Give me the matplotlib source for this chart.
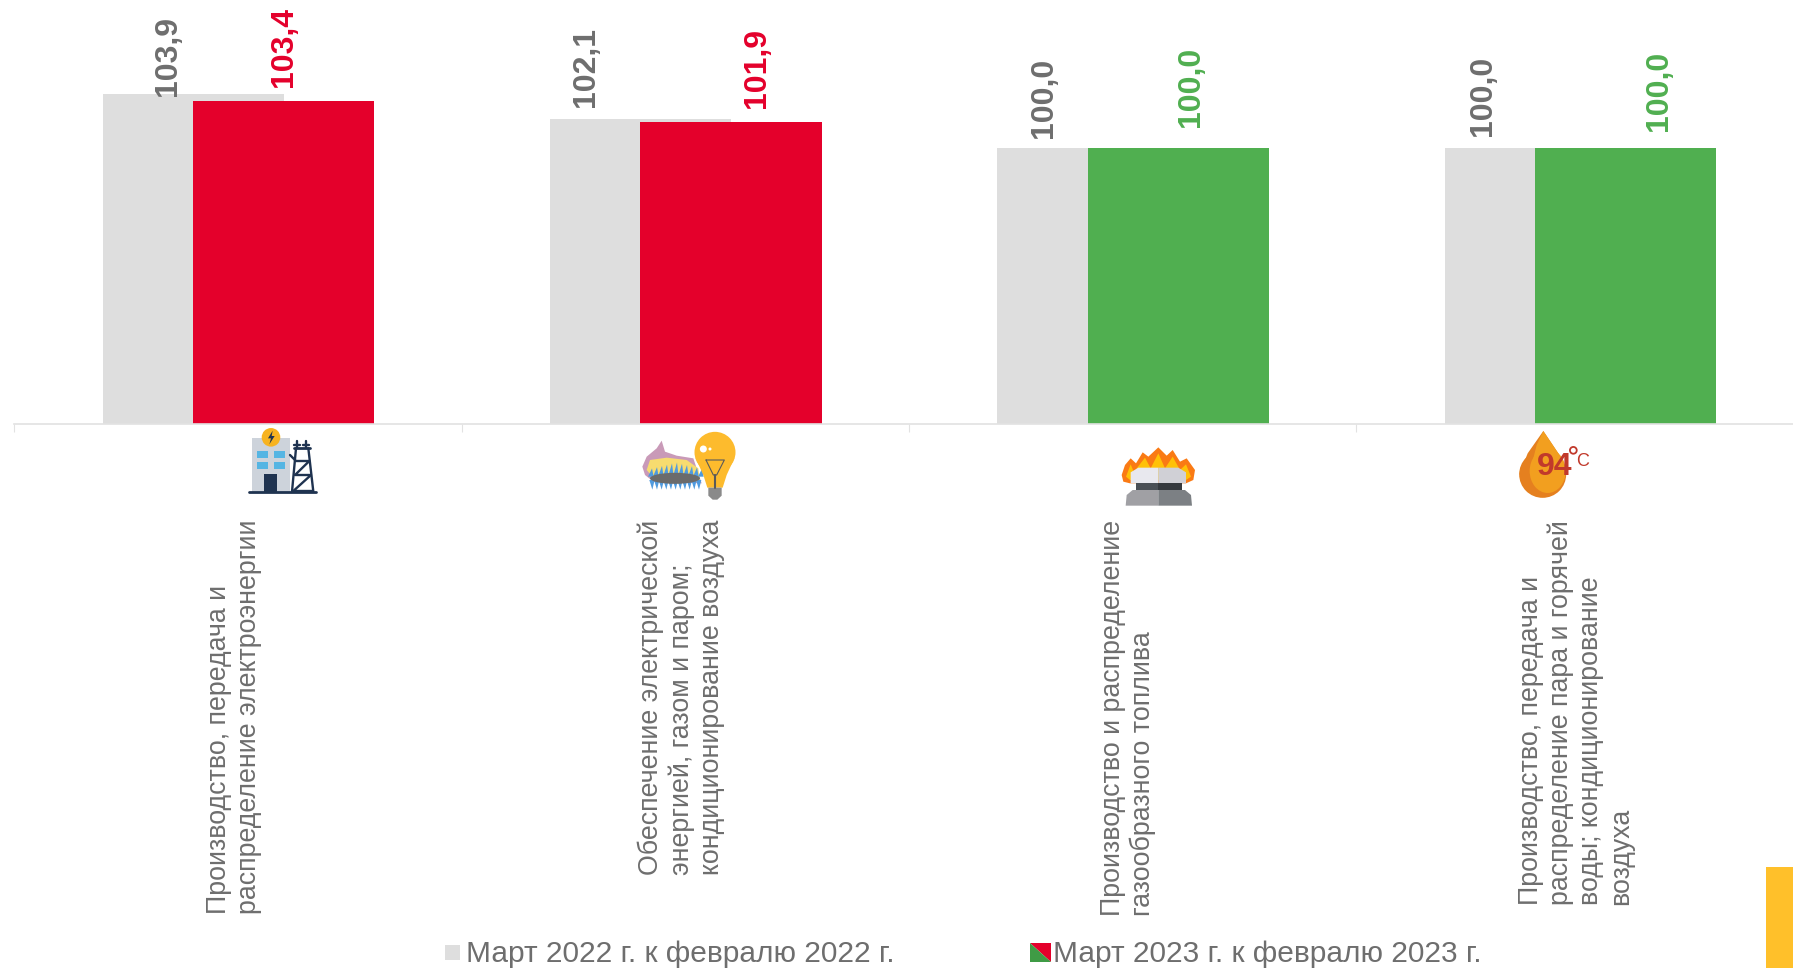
import matplotlib
matplotlib.use('Agg')
import matplotlib.pyplot as plt
import numpy as np
from matplotlib.patches import Polygon, Circle, Rectangle, Ellipse

plt.rcParams['font.family'] = ['Liberation Sans', 'DejaVu Sans']

categories = ['Производство, передача и\nраспределение электроэнергии',
              'Обеспечение электрической\nэнергией, газом и паром;\nкондиционирование воздуха',
              'Производство и распределение\nгазообразного топлива',
              'Производство, передача и\nраспределение пара и горячей\nводы; кондиционирование\nвоздуха']
march_2022 = [103.9, 102.1, 100.0, 100.0]
march_2023 = [103.4, 101.9, 100.0, 100.0]
legend_2022 = 'Март 2022 г. к февралю 2022 г.'
legend_2023 = 'Март 2023 г. к февралю 2023 г.'

GRAY = '#dedede'
RED = '#e4002b'
GREEN = '#50af50'
TEXT = '#6e6e6e'
colors_2023 = [RED, RED, GREEN, GREEN]

# label shifts from the bar top centre, in pixels
shift_2022 = [(-25, -2), (-55, 12), (-44, 10), (-52, 12)]
shift_2023 = [(0, 14), (26, 14), (13, 21), (33, 17)]
label_x = [234, 681, 1128, 1576]

W, H = 1793, 968
fig = plt.figure(figsize=(W / 100, H / 100), dpi=100)
ax = fig.add_axes([14.4 / W, (H - 424) / H, 1 - 14.4 / W, 424 / H])

x = np.arange(len(categories))
ax.bar(x - 0.1, march_2022, width=0.405, color=GRAY)
ax.bar(x + 0.102, march_2023, width=0.405, color=colors_2023)
ax.set_xlim(-0.5, 3.476)
ax.set_ylim(80, 80 + 424 / 13.8)
for s in ['top', 'left', 'right']:
    ax.spines[s].set_visible(False)
ax.spines['bottom'].set_color('#e2e2e2')
ax.spines['bottom'].set_linewidth(1.2)
ax.set_yticks([])
ax.set_xticks(np.arange(4) - 0.5)
ax.set_xticklabels([])
ax.tick_params(axis='x', length=6, width=0.8, color='#e2e2e2')

for i in range(4):
    ax.annotate(f'{march_2022[i]:.1f}'.replace('.', ','), (x[i] - 0.1, march_2022[i]),
                xytext=shift_2022[i], textcoords='offset pixels', rotation=90,
                ha='center', va='bottom', fontsize=23, fontweight='bold', color=TEXT,
                annotation_clip=False)
    ax.annotate(f'{march_2023[i]:.1f}'.replace('.', ','), (x[i] + 0.102, march_2023[i]),
                xytext=shift_2023[i], textcoords='offset pixels', rotation=90,
                ha='center', va='bottom', fontsize=23, fontweight='bold', color=colors_2023[i],
                annotation_clip=False)

# overlay in pixel coordinates for labels, legend and icons
ov = fig.add_axes([0, 0, 1, 1])
ov.set_xlim(0, W)
ov.set_ylim(H, 0)
ov.axis('off')
ov.patch.set_alpha(0)

for lx, cat in zip(label_x, categories):
    ov.text(lx, 520, cat, rotation=90, ha='center', va='top', multialignment='left',
            fontsize=19.3, color=TEXT, linespacing=1.2)

# legend
ov.add_patch(Rectangle((445, 945), 15, 15, color=GRAY, lw=0))
ov.text(466, 954, legend_2022, fontsize=21.5, color=TEXT, va='center', ha='left')
ov.add_patch(Polygon([(1030, 943), (1051, 943), (1051, 962)], color=RED, lw=0))
ov.add_patch(Polygon([(1030, 943), (1051, 962), (1030, 962)], color='#3f9b45', lw=0))
ov.text(1053, 954, legend_2023, fontsize=21.5, color=TEXT, va='center', ha='left')

# yellow corner block
ov.add_patch(Rectangle((1766, 867), 27, 101, color='#ffc02a', lw=0))


def z(ox, oy, pts):
    return [(ox + a / 3, oy + b / 3) for a, b in pts]


def poly(ox, oy, pts, col):
    ov.add_patch(Polygon(z(ox, oy, pts), closed=True, color=col, lw=0))


def line(ox, oy, pts, col, lw):
    p = np.array(z(ox, oy, pts))
    ov.plot(p[:, 0], p[:, 1], color=col, lw=lw, solid_capstyle='round')


# icon 1: building and pylon
o = (240, 425)
navy = '#1f3350'
poly(*o, [(37, 38), (150, 38), (150, 200), (37, 200)], '#cdd3db')
for wx in (52, 102):
    for wy in (78, 112):
        poly(*o, [(wx, wy), (wx + 33, wy), (wx + 33, wy + 20), (wx, wy + 20)], '#55b5e3')
poly(*o, [(72, 147), (112, 147), (112, 200), (72, 200)], navy)
ov.add_patch(Circle((240 + 93 / 3, 425 + 37 / 3), 9.3, color='#f7b320', lw=0))
poly(*o, [(98, 17), (84, 40), (93, 40), (88, 58), (104, 33), (95, 33)], navy)
line(*o, [(28, 202), (228, 202)], navy, 2)
line(*o, [(168, 70), (156, 200)], navy, 1.7)
line(*o, [(205, 70), (220, 200)], navy, 1.7)
line(*o, [(163, 70), (210, 70)], navy, 2)
line(*o, [(150, 90), (168, 108), (208, 108), (165, 150), (213, 150), (160, 198), (218, 198)], navy, 1.7)
line(*o, [(172, 70), (172, 48)], navy, 1.7)
line(*o, [(198, 70), (198, 48)], navy, 1.7)
line(*o, [(162, 60), (180, 60)], navy, 1.7)
line(*o, [(190, 60), (208, 60)], navy, 1.7)

# icon 2: burner flame and bulb
o = (630, 425)
poly(*o, [(95, 47), (105, 80), (140, 92), (190, 100), (215, 175), (70, 170), (45, 150), (37, 125), (50, 95), (80, 70)], '#c99ab8')
poly(*o, [(50, 135), (60, 105), (110, 98), (170, 105), (205, 130), (210, 170), (80, 170)], '#f7dc6f')
for bx in np.arange(62, 215, 15):
    poly(*o, [(bx - 8, 155), (bx + 4, 112 + abs(bx - 135) * 0.25), (bx + 9, 155)], '#4f9ade')
for bx in np.arange(66, 210, 14):
    poly(*o, [(bx - 8, 165), (bx + 8, 165), (bx + 1, 194)], '#4f9ade')
ov.add_patch(Ellipse((630 + 135 / 3, 425 + 160 / 3), 50, 11, color='#6b6b6b', lw=0))
ov.add_patch(Circle((630 + 255 / 3, 425 + 82 / 3), 20.5, color='#fdbb2d', lw=0))
poly(*o, [(197, 100), (313, 100), (290, 150), (278, 188), (232, 188), (220, 150)], '#fdbb2d')
poly(*o, [(235, 188), (275, 188), (275, 212), (262, 224), (248, 224), (235, 212)], '#8a8a8a')
ov.add_patch(Circle((630 + 220 / 3, 425 + 72 / 3), 3.5, color='white', lw=0))
ov.add_patch(Circle((630 + 240 / 3, 425 + 72 / 3), 1.5, color='white', lw=0))
line(*o, [(228, 105), (283, 105), (260, 150), (250, 150), (228, 105)], '#5a5a5a', 0.8)
line(*o, [(255, 150), (255, 188)], '#5a5a5a', 1.5)

# icon 3: gas ring
o = (1110, 435)
poly(*o, [(35, 120), (45, 90), (62, 70), (78, 85), (98, 52), (115, 65), (145, 37), (170, 62), (188, 45), (210, 80), (230, 70), (255, 105), (250, 135), (228, 145), (60, 145), (40, 140)], '#fa7a14')
poly(*o, [(48, 125), (62, 88), (75, 120), (80, 100), (105, 68), (122, 100), (145, 55), (165, 100), (188, 65), (210, 105), (228, 88), (243, 125), (228, 135), (60, 135)], '#ffc107')
poly(*o, [(62, 112), (85, 98), (145, 98), (145, 145), (62, 145)], '#e8e8ee')
poly(*o, [(145, 98), (205, 98), (228, 112), (228, 145), (145, 145)], '#d0d0d6')
poly(*o, [(78, 143), (145, 143), (145, 165), (78, 165)], '#4a4f55')
poly(*o, [(145, 143), (215, 143), (215, 165), (145, 165)], '#35393e')
poly(*o, [(47, 212), (50, 180), (68, 165), (145, 165), (145, 212)], '#a0a0a4')
poly(*o, [(145, 165), (225, 165), (243, 180), (246, 212), (145, 212)], '#7c8084')

# icon 4: hot drop
o = (1505, 425)
ov.add_patch(Circle((1505 + 113 / 3, 425 + 148 / 3), 23.5, color='#e5801f', lw=0))
poly(*o, [(115, 18), (160, 85), (183, 148), (43, 148), (68, 85)], '#e5801f')
ov.add_patch(Ellipse((1505 + 128 / 3, 425 + 138 / 3), 36, 44, color='#f29f1f', lw=0))
poly(*o, [(115, 18), (160, 85), (180, 130), (80, 120), (95, 60)], '#f29f1f')
ov.text(1505 + 148 / 3, 425 + 127 / 3, '94', fontsize=23, color='#c1392b', fontweight='bold',
        ha='center', va='center')
ov.add_patch(Circle((1505 + 205 / 3, 425 + 76 / 3), 3.4, fill=False, ec='#c1392b', lw=1.3))
ov.text(1505 + 232 / 3, 425 + 108 / 3, 'C', fontsize=13, color='#c1392b', ha='center', va='center')

fig.savefig('out.png', dpi=100)
